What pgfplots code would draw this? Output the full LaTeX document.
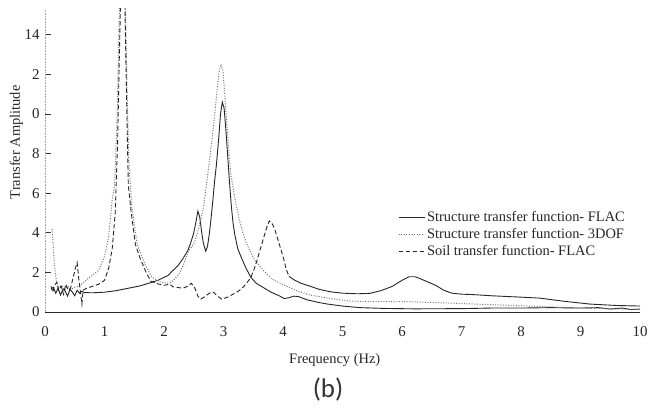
\documentclass[border=0pt]{standalone}
\usepackage{pgfplots}
\pgfplotsset{compat=1.18}
\usepackage{fontspec}
\setmainfont{Liberation Serif}
\newfontfamily\capfont{Carlito}
\begin{document}
\begin{tikzpicture}
\useasboundingbox (0,0) rectangle (662bp,409bp);
\begin{axis}[
 at={(45bp,97bp)}, anchor=south west, scale only axis,
 width=595bp, height=303bp,
 xmin=0, xmax=10, ymin=0, ymax=15.3,
 axis lines=left, axis line style={-},
 x axis line style={black!85, line width=0.9bp},
 y axis line style={black!35, densely dotted, line width=0.6bp},
 xtick={0,1,2,3,4,5,6,7,8,9,10},
 xticklabels={0,1,2,3,4,5,6,7,8,9,10},
 ytick={0,2,4,6,8,10,12,14},
 yticklabels={0,2,4,6,8,0,2,14},
 xtick style={draw=none},
 ytick style={black!80, line width=0.7bp},
 tick align=inside, major tick length=6bp,
 tick label style={font=\fontsize{15}{17}\selectfont, text=black!85},
 xticklabel style={yshift=-11bp},
 yticklabel style={xshift=-2bp},
 xlabel={Frequency (Hz)}, ylabel={Transfer Amplitude},
 label style={font=\fontsize{14.5}{17}\selectfont, text=black!85},
 xlabel style={at={(rel axis cs:0.487,-0.158)}, anchor=center},
 ylabel style={at={(rel axis cs:-0.048,0.56)}, anchor=center},
 clip=true,
 legend style={at={(rel axis cs:0.593,0.34)}, anchor=north west, draw=none, fill=none,
   font=\fontsize{14.5}{17}\selectfont, row sep=1.5bp, inner sep=0pt, nodes={inner sep=2bp, text=black!85}},
 legend cell align=left,
 legend image code/.code={\draw[#1] (0bp,0bp) -- (26bp,0bp);},
]
\addplot[black!85, line width=0.9bp] coordinates {
(0.10,1.15) (0.14,1.25) (0.18,0.95) (0.22,1.2) (0.26,0.85) (0.30,1.15) (0.34,1.05) (0.38,0.8)
(0.42,1.15) (0.46,1.0) (0.50,0.82) (0.54,1.1) (0.58,0.95) (0.62,1.05) (0.66,0.98) (0.8,0.97)
(1.0,1.0) (1.2,1.08) (1.4,1.2) (1.6,1.32) (1.76,1.47) (1.9,1.6) (2.0,1.75) (2.07,1.85)
(2.13,2.04) (2.24,2.36) (2.32,2.7) (2.40,3.1) (2.45,3.5) (2.50,4.0) (2.54,4.6) (2.57,5.1)
(2.60,4.8) (2.63,4.1) (2.66,3.5) (2.70,3.07) (2.73,3.3) (2.76,3.9) (2.79,4.7) (2.82,5.6)
(2.85,6.6) (2.88,7.4) (2.92,8.8) (2.95,10.0) (2.98,10.6) (3.01,10.3) (3.04,9.2) (3.07,7.9)
(3.10,6.6) (3.13,5.4) (3.16,4.5) (3.19,3.9) (3.24,3.2) (3.30,2.74) (3.38,2.2) (3.46,1.75)
(3.55,1.45) (3.65,1.27) (3.8,1.0) (3.95,0.8) (4.02,0.68) (4.1,0.72) (4.18,0.8) (4.26,0.78)
(4.4,0.62) (4.6,0.48) (4.75,0.4) (5.0,0.3) (5.3,0.22) (5.7,0.18) (6.2,0.16) (7.0,0.17)
(7.5,0.2) (8.0,0.2) (8.5,0.22) (9.0,0.2) (9.3,0.22) (9.5,0.15) (9.7,0.2) (9.85,0.12) (10,0.15)
};
\addlegendentry{Structure transfer function- FLAC}
\addplot[black!55, line width=1bp, dash pattern=on 1bp off 1.6bp] coordinates {
(0.12,4.2) (0.14,3.2) (0.16,2.3) (0.19,1.6) (0.23,1.2) (0.28,1.35) (0.33,1.1) (0.38,1.3)
(0.44,1.15) (0.5,1.25) (0.58,1.3) (0.65,1.5) (0.75,1.75) (0.9,2.1) (1.0,2.8) (1.07,3.8)
(1.13,5.7) (1.17,6.4) (1.21,9.6) (1.25,15.2) (1.28,18) (1.32,18) (1.35,15.5) (1.38,11)
(1.41,7.5) (1.46,5.3) (1.55,3.4) (1.68,2.4) (1.80,1.75) (1.95,1.5) (2.05,1.45) (2.12,1.5)
(2.25,1.9) (2.33,2.4) (2.40,3.0) (2.51,3.5) (2.58,4.2) (2.66,5.2) (2.72,6.6) (2.78,8.0)
(2.84,9.6) (2.89,11.2) (2.93,12.2) (2.96,12.5) (2.99,12.2) (3.03,10.6) (3.08,8.5) (3.12,7.0)
(3.20,5.6) (3.27,4.6) (3.35,3.76) (3.44,3.1) (3.53,2.6) (3.67,2.1) (3.82,1.65) (4.06,1.3)
(4.25,1.05) (4.45,0.86) (4.8,0.68) (5.13,0.55) (5.6,0.52) (6.13,0.52) (6.5,0.48) (6.97,0.43)
(7.5,0.37) (8.0,0.32) (8.87,0.21) (9.3,0.18) (9.7,0.15) (10,0.12)
};
\addlegendentry{Structure transfer function- 3DOF}
\addplot[black!85, line width=0.9bp, dash pattern=on 4.5bp off 2.5bp] coordinates {
(0.10,1.3) (0.13,1.0) (0.16,1.35) (0.2,1.5) (0.23,1.1) (0.27,1.3) (0.31,0.9) (0.35,1.4)
(0.39,1.1) (0.43,1.2) (0.47,1.7) (0.51,2.2) (0.54,2.5) (0.57,1.6) (0.60,0.9) (0.62,0.4)
(0.64,1.1) (0.7,1.2) (0.8,1.3) (0.9,1.4) (1.0,1.6) (1.07,2.2) (1.13,3.2) (1.18,5.0)
(1.22,8.5) (1.25,13) (1.28,17) (1.31,18) (1.34,16) (1.37,11) (1.40,6.4) (1.45,5.0)
(1.52,3.4) (1.60,2.7) (1.70,2.0) (1.78,1.55) (1.9,1.42) (2.0,1.35) (2.1,1.4) (2.15,1.27)
(2.32,1.2) (2.40,1.3) (2.46,1.45) (2.52,1.2) (2.57,0.8) (2.62,0.65) (2.70,0.8) (2.76,0.95)
(2.83,1.0) (2.90,0.8) (2.97,0.65) (3.07,0.75) (3.16,0.9) (3.25,1.05) (3.33,1.25) (3.40,1.5)
(3.46,1.75) (3.52,2.2) (3.58,2.78) (3.64,3.4) (3.70,4.0) (3.74,4.4) (3.77,4.6) (3.81,4.5)
(3.86,4.2) (3.91,3.7) (3.96,3.2) (4.01,2.7) (4.05,2.2) (4.10,1.8)
};
\addlegendentry{Soil transfer function- FLAC}
\addplot[black!85, line width=0.9bp, forget plot] coordinates {
(4.10,1.8) (4.2,1.6) (4.3,1.45) (4.44,1.32) (4.6,1.15) (4.8,1.02) (5.0,0.95) (5.25,0.92)
(5.46,0.94) (5.65,1.08) (5.84,1.3) (6.0,1.6) (6.12,1.78) (6.22,1.78) (6.29,1.7) (6.45,1.5)
(6.57,1.34) (6.7,1.1) (6.84,0.95) (7.0,0.9) (7.19,0.88) (7.5,0.82) (8.0,0.75) (8.32,0.7)
(8.7,0.55) (9.16,0.4) (9.6,0.33) (10.0,0.3)
};
\end{axis}
\node[font=\capfont\fontsize{27}{31}\selectfont, text=black!80] at (328bp,19bp) {(b)};
\end{tikzpicture}
\end{document}
